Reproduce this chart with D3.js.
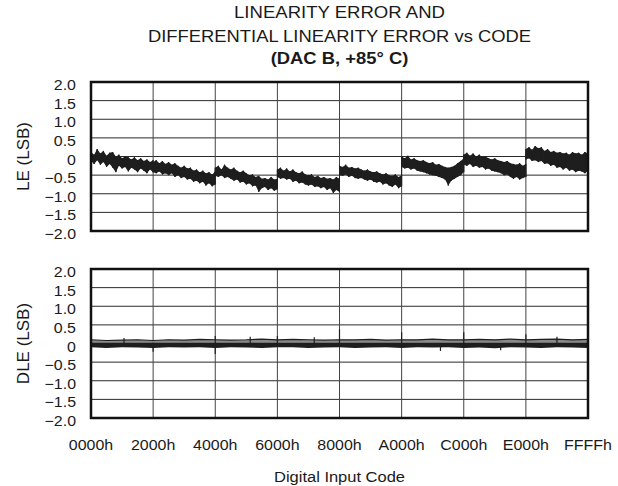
<!DOCTYPE html>
<html><head><meta charset="utf-8">
<script src="https://cdn.jsdelivr.net/npm/d3@7"></script>
<style>body{margin:0;background:#fff}</style>
</head><body>
<script>
// ---------- data ----------
const titleLines = ["LINEARITY ERROR AND", "DIFFERENTIAL LINEARITY ERROR vs CODE", "(DAC B, +85\u00B0 C)"];
const xTickCodes = [0x0000, 0x2000, 0x4000, 0x6000, 0x8000, 0xA000, 0xC000, 0xE000, 0xFFFF];
const xTickLabels = ["0000h", "2000h", "4000h", "6000h", "8000h", "A000h", "C000h", "E000h", "FFFFh"];
const yTicks = [2.0, 1.5, 1.0, 0.5, 0, -0.5, -1.0, -1.5, -2.0];
const yTickLabels = ["2.0", "1.5", "1.0", "0.5", "0", "\u22120.5", "\u22121.0", "\u22121.5", "\u22122.0"];
const xTitle = "Digital Input Code";
const leTitle = "LE (LSB)";
const dleTitle = "DLE (LSB)";

// LE band: 8 segments x 21 samples (upper / lower envelope of the noisy trace)
const leHigh = [
  0.12, 0.05, 0.2, 0.08, 0.15, 0.02, 0.1, 0.12, 0.0, 0.05, -0.05, 0.0, -0.02, -0.08, -0.02, -0.1, -0.05, -0.12, -0.08, -0.15, -0.1,
  -0.15, -0.1, -0.18, -0.12, -0.2, -0.15, -0.22, -0.18, -0.25, -0.3, -0.25, -0.32, -0.3, -0.38, -0.35, -0.42, -0.38, -0.45, -0.42, -0.48, -0.4,
  -0.3, -0.25, -0.35, -0.22, -0.3, -0.35, -0.3, -0.38, -0.42, -0.38, -0.45, -0.5, -0.48, -0.55, -0.52, -0.6, -0.58, -0.62, -0.55, -0.62, -0.6,
  -0.35, -0.3, -0.38, -0.32, -0.4, -0.35, -0.42, -0.45, -0.4, -0.48, -0.5, -0.48, -0.55, -0.52, -0.58, -0.55, -0.6, -0.58, -0.62, -0.55, -0.6,
  -0.25, -0.28, -0.22, -0.3, -0.28, -0.32, -0.3, -0.35, -0.38, -0.35, -0.4, -0.42, -0.4, -0.45, -0.48, -0.45, -0.5, -0.52, -0.48, -0.55, -0.5,
  0.0, -0.05, 0.02, -0.08, -0.05, -0.1, -0.12, -0.1, -0.15, -0.18, -0.15, -0.22, -0.2, -0.25, -0.28, -0.3, -0.28, -0.25, -0.18, -0.12, -0.05,
  0.05, 0.1, 0.02, 0.08, 0.0, 0.05, -0.02, 0.0, -0.05, -0.08, -0.05, -0.1, -0.12, -0.15, -0.12, -0.18, -0.2, -0.22, -0.18, -0.25, -0.2,
  0.2, 0.25, 0.18, 0.28, 0.22, 0.25, 0.15, 0.2, 0.12, 0.15, 0.1, 0.12, 0.08, 0.1, 0.05, 0.12, 0.08, 0.1, 0.05, 0.12, 0.08
];
const leLow = [
  -0.12, -0.2, -0.1, -0.22, -0.15, -0.28, -0.2, -0.3, -0.42, -0.25, -0.32, -0.28, -0.4, -0.3, -0.35, -0.42, -0.32, -0.38, -0.45, -0.35, -0.42,
  -0.42, -0.45, -0.4, -0.48, -0.45, -0.5, -0.45, -0.55, -0.5, -0.58, -0.55, -0.62, -0.6, -0.68, -0.65, -0.72, -0.68, -0.78, -0.72, -0.8, -0.75,
  -0.52, -0.55, -0.5, -0.58, -0.55, -0.6, -0.65, -0.62, -0.7, -0.68, -0.75, -0.72, -0.8, -0.78, -0.95, -0.85, -0.82, -0.9, -0.85, -0.92, -0.88,
  -0.55, -0.6, -0.58, -0.62, -0.6, -0.68, -0.65, -0.72, -0.7, -0.75, -0.78, -0.75, -0.82, -0.8, -0.85, -0.82, -0.9, -0.85, -0.98, -0.9, -0.95,
  -0.5, -0.52, -0.48, -0.55, -0.52, -0.58, -0.6, -0.58, -0.62, -0.65, -0.62, -0.68, -0.7, -0.68, -0.75, -0.72, -0.78, -0.82, -0.75, -0.85, -0.8,
  -0.28, -0.32, -0.3, -0.35, -0.32, -0.38, -0.4, -0.42, -0.45, -0.48, -0.5, -0.52, -0.55, -0.58, -0.62, -0.78, -0.65, -0.6, -0.55, -0.5, -0.42,
  -0.22, -0.25, -0.2, -0.28, -0.25, -0.3, -0.28, -0.35, -0.32, -0.38, -0.4, -0.42, -0.45, -0.5, -0.48, -0.55, -0.6, -0.55, -0.62, -0.58, -0.55,
  -0.08, -0.05, -0.12, -0.1, -0.15, -0.12, -0.2, -0.18, -0.25, -0.22, -0.3, -0.28, -0.35, -0.3, -0.38, -0.35, -0.42, -0.38, -0.4, -0.45, -0.38
];
const leSamplesPerSegment = 21;

// DLE band: 33 samples (every 0800h)
const dleHigh = [
  0.1, 0.08, 0.09, 0.1, 0.08, 0.1, 0.09, 0.11, 0.1, 0.09, 0.1, 0.12, 0.1, 0.11, 0.1, 0.09,
  0.1, 0.1, 0.11, 0.09, 0.1, 0.1, 0.12, 0.1, 0.1, 0.11, 0.1, 0.12, 0.1, 0.11, 0.12, 0.1, 0.11
];
const dleLow = [
  -0.1, -0.12, -0.1, -0.11, -0.12, -0.1, -0.11, -0.1, -0.12, -0.1, -0.11, -0.12, -0.1, -0.1, -0.12, -0.11,
  -0.1, -0.12, -0.11, -0.1, -0.12, -0.1, -0.11, -0.1, -0.12, -0.11, -0.13, -0.1, -0.11, -0.12, -0.1, -0.11, -0.12
];
// isolated DLE spikes
const spikeCodes = [0x2000, 0x4000, 0x4000, 0x6000, 0x8000, 0xA000, 0xC000, 0xE000, 0x5200, 0xB400, 0xD300, 0x1100, 0x7300, 0xF000];
const spikeValues = [-0.22, 0.2, -0.28, 0.2, 0.38, 0.3, 0.3, 0.25, 0.18, -0.2, -0.18, 0.15, 0.17, 0.18];

// ---------- layout ----------
const W = 618, H = 486;
const L = 91, R = 588;
const panels = [
  {top: 82, bottom: 231, title: leTitle},
  {top: 269, bottom: 418, title: dleTitle}
];
const font = "'Liberation Sans', Arial, Helvetica, sans-serif";
const ink = "#1e1e1e";

const svg = d3.select("body").append("svg").attr("width", W).attr("height", H)
  .style("font-family", font);

const x = d3.scaleLinear().domain([0, 0xFFFF]).range([L, R]);

function txt(parent, px, py, s, size, sx, anchor, weight, rot) {
  const g = parent.append("g").attr("transform",
    `translate(${px},${py})` + (rot ? ` rotate(${rot})` : "") + ` scale(${sx},1)`);
  g.append("text").attr("text-anchor", anchor).attr("font-size", size)
    .attr("font-weight", weight || "normal").attr("fill", "#1a1a1a").text(s);
  return g;
}

// title
const tcx = (L + R) / 2;
txt(svg, tcx, 18, titleLines[0], 16, 1.16, "middle");
txt(svg, tcx, 42, titleLines[1], 16, 1.15, "middle");
txt(svg, tcx, 64, titleLines[2], 16, 1.15, "middle", "bold");

panels.forEach((p) => {
  const y = d3.scaleLinear().domain([-2, 2]).range([p.bottom, p.top]);
  p.y = y;
  const g = svg.append("g");
  g.selectAll(".hg").data(yTicks).join("line")
    .attr("x1", L).attr("x2", R).attr("y1", d => y(d)).attr("y2", d => y(d))
    .attr("stroke", "#2a2a2a").attr("stroke-width", 1);
  g.selectAll(".vg").data(xTickCodes).join("line")
    .attr("x1", d => x(d)).attr("x2", d => x(d)).attr("y1", p.top).attr("y2", p.bottom)
    .attr("stroke", "#444").attr("stroke-width", 1);
  yTicks.forEach((v, i) => {
    txt(svg, 76, y(v) + 8, yTickLabels[i], 14.5, 1.1, "end");
  });
  txt(svg, 29, (p.top + p.bottom) / 2, p.title, 17, 1, "middle", "normal", -90);
});

// LE data
const yLE = panels[0].y;
const leData = leHigh.map((hi, i) => {
  const s = Math.floor(i / leSamplesPerSegment), j = i % leSamplesPerSegment;
  const c = s * 0x2000 + j * 0x1FFF / (leSamplesPerSegment - 1);
  return {c, hi, lo: leLow[i]};
});
svg.append("path").datum(leData)
  .attr("d", d3.area().x(d => x(d.c)).y0(d => yLE(d.lo)).y1(d => yLE(d.hi)))
  .attr("fill", ink);
const zig = [];
leData.forEach(d => { zig.push([d.c, d.hi]); zig.push([d.c, d.lo]); });
svg.append("path").datum(zig)
  .attr("d", d3.line().x(d => x(d[0])).y(d => yLE(d[1])))
  .attr("fill", "none").attr("stroke", ink).attr("stroke-width", 1);

// DLE data
const yD = panels[1].y;
const dleData = dleHigh.map((hi, i) => ({c: Math.min(i * 0x800, 0xFFFF), hi, lo: dleLow[i]}));
svg.append("path").datum(dleData)
  .attr("d", d3.area().x(d => x(d.c)).y0(() => yD(0.03)).y1(d => yD(d.hi)))
  .attr("fill", "#8a8a8a");
svg.append("path").datum(dleData)
  .attr("d", d3.line().x(d => x(d.c)).y(d => yD(d.hi)))
  .attr("fill", "none").attr("stroke", ink).attr("stroke-width", 1.2);
svg.append("path").datum(dleData)
  .attr("d", d3.area().x(d => x(d.c)).y0(d => yD(d.lo)).y1(() => yD(0.03)))
  .attr("fill", ink);
svg.selectAll(".spike").data(spikeCodes.map((c, i) => ({c, v: spikeValues[i]}))).join("line")
  .attr("x1", d => x(d.c)).attr("x2", d => x(d.c))
  .attr("y1", yD(0)).attr("y2", d => yD(d.v))
  .attr("stroke", ink).attr("stroke-width", 1.2);

// frames
panels.forEach(p => {
  svg.append("rect").attr("x", L).attr("y", p.top).attr("width", R - L).attr("height", p.bottom - p.top)
    .attr("fill", "none").attr("stroke", "#111").attr("stroke-width", 2.5);
});

// x tick labels
xTickCodes.forEach((c, i) => txt(svg, x(c), 450, xTickLabels[i], 15.5, 1.03, "middle"));
// x title
txt(svg, tcx, 482, xTitle, 15, 1.1, "middle");
</script>
</body></html>
